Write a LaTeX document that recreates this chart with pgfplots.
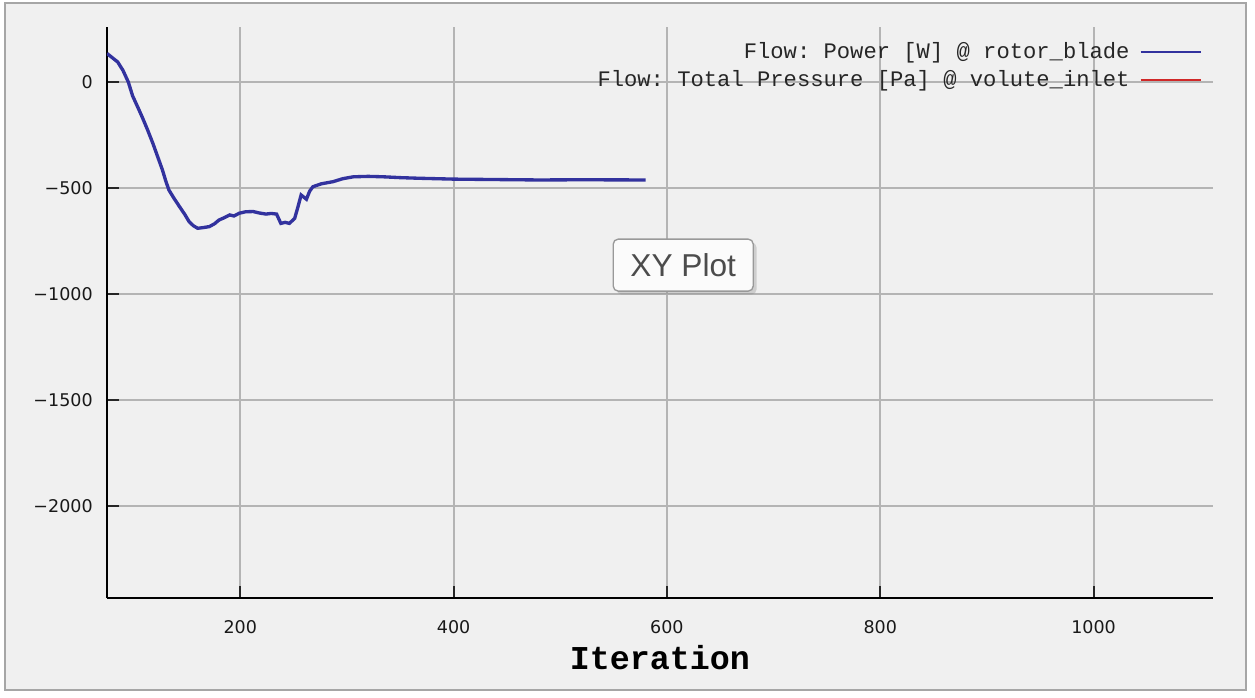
\documentclass[border=0pt]{standalone}
\usepackage{fontspec}
\usepackage{pgfplots}
\pgfplotsset{compat=1.18}
\usetikzlibrary{shadows}
\setmainfont{DejaVu Sans}
\newfontfamily\monofont{Liberation Mono}
\newfontfamily\tipfont{Liberation Sans}
\definecolor{panel}{HTML}{F0F0F0}
\definecolor{gridc}{HTML}{B4B4B4}
\definecolor{power}{HTML}{32329E}
\definecolor{press}{HTML}{D02828}
\frenchspacing

\pgfplotstableread{
it val
75 135
80 115
85 95
90 55
95 0
99 -65
104 -120
108 -165
113 -225
118 -289
122 -345
127 -415
130 -465
133 -509
138 -550
143 -588
148 -625
152 -659
156 -678
160 -690
165 -687
171 -682
176 -668
180 -651
185 -640
190 -627
194 -632
199 -619
205 -612
212 -611
218 -618
224 -623
229 -620
234 -623
238 -667
242 -662
246 -667
251 -643
254 -590
257 -533
260 -545
262 -553
265 -515
268 -494
276 -480
287 -470
296 -456
306 -447
320 -445
334 -447
350 -451
368 -454
400 -458
440 -460
480 -462
520 -461
580 -462
}\powerdata

\begin{document}
\begin{tikzpicture}
% page and window frame (1px = 0.6pt, axis box lower left at origin)
\fill[white] (-64.2pt,-59.4pt) rectangle (688.8pt,358.8pt);
\filldraw[fill=panel, draw=gray!70, line width=1pt] (-61.2pt,-55.2pt) rectangle (683.4pt,357pt);
\begin{axis}[
  scale only axis,
  width=663.6pt, height=342.6pt,
  xmin=75, xmax=1112, ymin=-2435, ymax=260,
  axis x line=bottom, axis y line=left,
  axis line style={-, line width=1.5pt, black},
  xtick={200,400,600,800,1000},
  xticklabels={200,400,600,800,1000},
  ytick={-2000,-1500,-1000,-500,0},
  yticklabels={−2000,−1500,−1000,−500,0},
  tick align=inside,
  major tick length=7pt,
  tick style={line width=1.2pt, gray!30!black},
  grid=major,
  major grid style={line width=1.2pt, gridc},
  ticklabel style={font=\fontsize{10.5pt}{12pt}\selectfont, text=black!90, inner sep=0pt},
  xticklabel style={anchor=center, yshift=-17.4pt},
  yticklabel style={anchor=east, xshift=-8.4pt},
  xlabel={Iteration},
  xlabel style={font=\monofont\bfseries\fontsize{20pt}{22pt}\selectfont,
    at={(axis description cs:0.5,0)}, anchor=center, yshift=-36pt},
  legend plot pos=right,
  legend cell align=right,
  legend image code/.code={\draw[#1, line width=1.2pt] (0pt,0pt) -- (36pt,0pt);},
  legend style={at={(rel axis cs:0.99,0.972)}, anchor=north east,
    draw=none, fill=none, inner sep=0pt, row sep=5.8pt,
    font=\monofont\fontsize{13.3pt}{15pt}\selectfont, text=black!85,
    nodes={inner sep=0pt, text height=9pt, text depth=2pt},
    /tikz/every odd column/.append style={column sep=6pt}},
]
\addplot[power, line width=2pt] table[x=it, y=val] {\powerdata};
\addlegendentry{Flow: Power [W] @ rotor\_blade}
\addlegendimage{press}
\addlegendentry{Flow: Total Pressure [Pa] @ volute\_inlet}
\node[draw=gray!80, rounded corners=3pt, fill=white!97!gray, line width=0.8pt,
  drop shadow={shadow xshift=2pt, shadow yshift=-2pt, opacity=0.3},
  minimum width=84pt, minimum height=31.2pt, text=black!70,
  font=\tipfont\fontsize{19pt}{21pt}\selectfont]
  at (rel axis cs:0.521,0.583) {XY Plot};
\end{axis}
\end{tikzpicture}
\end{document}
